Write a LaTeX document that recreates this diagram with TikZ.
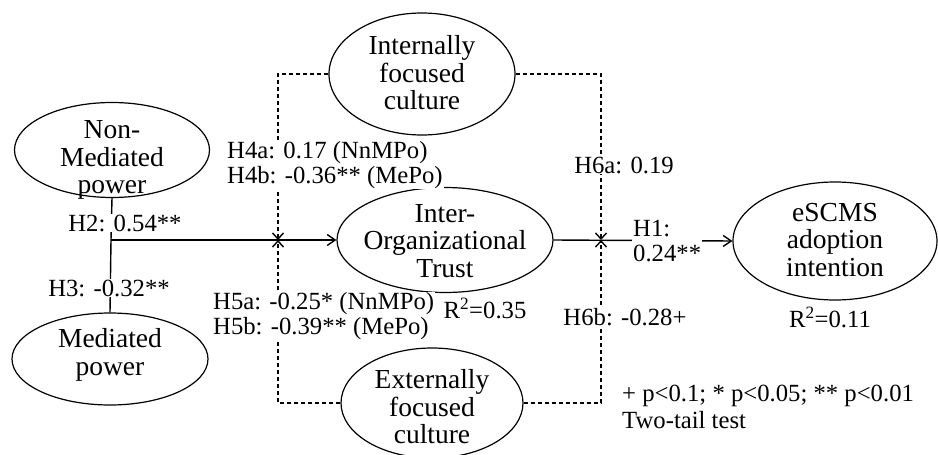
\documentclass[tikz,border=0pt]{standalone}
\usepackage{fontspec}
\setmainfont{Liberation Serif}
\usetikzlibrary{shapes.geometric,arrows.meta,positioning}

\begin{document}
\begin{tikzpicture}[x=1pt,y=-1pt,
    concept/.style={draw, ellipse, line width=1.2pt, inner sep=0pt},
    ctext/.style={align=center, inner sep=0pt, font=\fontsize{27.5}{27.5}\selectfont},
    lbl/.style={fill=white, inner sep=1pt, align=left, font=\fontsize{24.7}{24.5}\selectfont},
    link/.style={line width=1.4pt, -{Straight Barb[length=8pt,width=11pt]}},
    modline/.style={line width=1.4pt, dash pattern=on 4.5pt off 2.5pt, -{Straight Barb[length=6pt,width=11pt]}}]
    \useasboundingbox (0,0) rectangle (938,455);

    % Constructs
    \node[concept, minimum width=195, minimum height=95] (nonmed) at (112,150) {};
    \node[ctext] (nonmed-t) at (112,160) {Non-\\Mediated\\power};
    \node[concept, minimum width=196, minimum height=92] (med) at (110,359) {};
    \node[ctext] (med-t) at (110,355) {Mediated\\power};
    \node[concept, minimum width=216, minimum height=105] (trust) at (445,240) {};
    \node[ctext] (trust-t) at (445,241) {Inter-\\Organizational\\Trust};
    \node[concept, minimum width=204, minimum height=118] (escms) at (835,241) {};
    \node[ctext] (escms-t) at (835,240) {eSCMS\\adoption\\intention};
    \node[concept, minimum width=186, minimum height=122] (intc) at (422,74) {};
    \node[ctext] (intc-t) at (422,73) {Internally\\focused\\culture};
    \node[concept, minimum width=182, minimum height=110] (extc) at (432,403) {};
    \node[ctext] (extc-t) at (432,407) {Externally\\focused\\culture};

    % Main paths
    \coordinate (jn) at (111,240);
    \coordinate (mL) at (278,240);
    \coordinate (mR) at (601,240);
    \draw[line width=1.4pt] (nonmed.south) -- (jn) -- (med.north);
    \draw[link] (jn) -- (trust.west);
    \draw[link] (trust.east) -- (escms.west);

    % Moderators
    \draw[modline] (intc.west) -| (mL);
    \draw[modline] (extc.west) -| (mL);
    \draw[modline] (intc.east) -| (mR);
    \draw[modline] (extc.east) -| (mR);

    % Coefficients
    \node[lbl] (h2) at (125,223) {H2: 0.54**};
    \node[lbl] (h3) at (109,288) {H3: -0.32**};
    \node[lbl, anchor=west] (h4) at (226,165) {H4a: 0.17 (NnMPo)\\H4b: -0.36** (MePo)};
    \node[lbl, anchor=west] (h5) at (212,316) {H5a: -0.25* (NnMPo)\\H5b: -0.39** (MePo)};
    \node[lbl] (h6a) at (624,165) {H6a: 0.19};
    \node[lbl] (h6b) at (625,317) {H6b: -0.28+};
    \node[lbl, anchor=west] (h1) at (632,241) {H1:\\0.24**};
    \node[lbl] (r2trust) at (485,308) {R\textsuperscript{2}=0.35};
    \node[lbl] (r2escms) at (830,317) {R\textsuperscript{2}=0.11};

    % Legend
    \node[lbl, anchor=west, font=\fontsize{24.7}{27}\selectfont] (note) at (621,407) {+ p<0.1; * p<0.05; ** p<0.01\\Two-tail test};
\end{tikzpicture}
\end{document}
